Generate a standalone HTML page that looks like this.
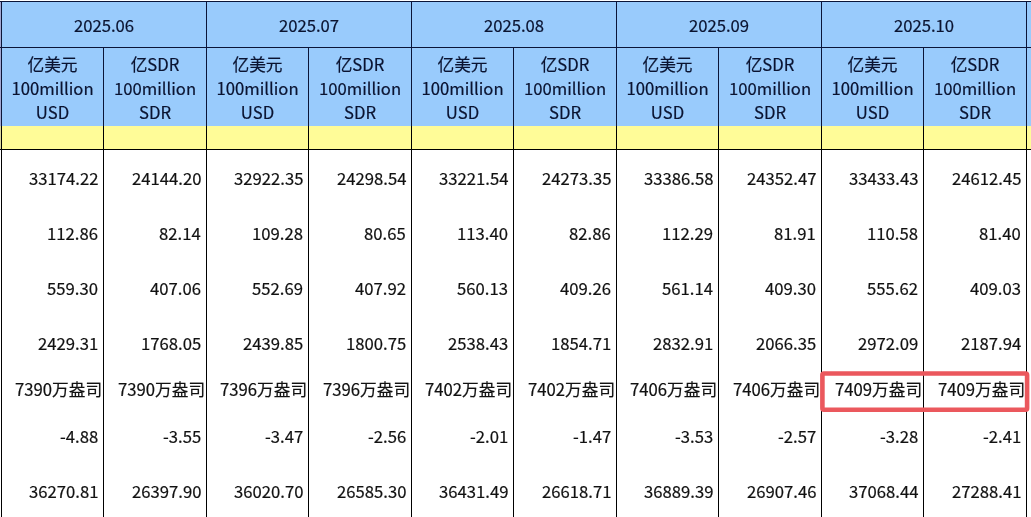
<!DOCTYPE html>
<html><head><meta charset="utf-8"><title>table</title>
<style>
html,body{margin:0;padding:0;}
body{width:1031px;height:517px;overflow:hidden;background:#fff;position:relative;
font-family:'Noto Sans CJK SC', 'Liberation Sans', sans-serif;font-size:16.7px;color:#111;}
.a{position:absolute;}
.h{position:absolute;height:1px;left:0;width:1031px;background:#000;}
.v{position:absolute;width:1px;background:#000;}
.t{position:absolute;line-height:24px;white-space:nowrap;will-change:transform;-webkit-text-stroke:0.2px currentColor;}
.c{text-align:center;}
.r{text-align:right;}
.hd{color:#0a1330;}
</style></head><body>

<div class="a" style="left:0;top:2px;width:1031px;height:124px;background:#99cbfc"></div>
<div class="a" style="left:0;top:126px;width:1031px;height:23px;background:#fffc98"></div>
<div class="a" style="left:0;top:2px;width:1px;height:124px;background:#a3a9d3"></div>
<div class="a" style="left:0;top:126px;width:1px;height:23px;background:#dcd8a0"></div>
<div class="h" style="top:1px;background:#0b1538"></div>
<div class="h" style="top:47px;background:#0b1538"></div>
<div class="h" style="top:149px;background:#000"></div>
<div class="v" style="left:1px;top:1px;height:125px;background:#0b1538"></div>
<div class="v" style="left:1px;top:126px;height:391px"></div>
<div class="v" style="left:103px;top:47px;height:79px;background:#0b1538"></div>
<div class="v" style="left:103px;top:126px;height:391px"></div>
<div class="v" style="left:206px;top:1px;height:125px;background:#0b1538"></div>
<div class="v" style="left:206px;top:126px;height:391px"></div>
<div class="v" style="left:308px;top:47px;height:79px;background:#0b1538"></div>
<div class="v" style="left:308px;top:126px;height:391px"></div>
<div class="v" style="left:411px;top:1px;height:125px;background:#0b1538"></div>
<div class="v" style="left:411px;top:126px;height:391px"></div>
<div class="v" style="left:513px;top:47px;height:79px;background:#0b1538"></div>
<div class="v" style="left:513px;top:126px;height:391px"></div>
<div class="v" style="left:616px;top:1px;height:125px;background:#0b1538"></div>
<div class="v" style="left:616px;top:126px;height:391px"></div>
<div class="v" style="left:718px;top:47px;height:79px;background:#0b1538"></div>
<div class="v" style="left:718px;top:126px;height:391px"></div>
<div class="v" style="left:821px;top:1px;height:125px;background:#0b1538"></div>
<div class="v" style="left:821px;top:126px;height:391px"></div>
<div class="v" style="left:923px;top:47px;height:79px;background:#0b1538"></div>
<div class="v" style="left:923px;top:126px;height:391px"></div>
<div class="v" style="left:1026px;top:1px;height:125px;background:#0b1538"></div>
<div class="v" style="left:1026px;top:126px;height:391px"></div>
<div class="t c hd" style="left:2px;width:204px;top:12.5px">2025.06</div>
<div class="t c hd" style="left:207px;width:204px;top:12.5px">2025.07</div>
<div class="t c hd" style="left:412px;width:204px;top:12.5px">2025.08</div>
<div class="t c hd" style="left:617px;width:204px;top:12.5px">2025.09</div>
<div class="t c hd" style="left:822px;width:204px;top:12.5px">2025.10</div>
<div class="t c hd" style="left:2px;width:101px;top:52.0px">亿美元<br>100million<br>USD</div>
<div class="t c hd" style="left:104px;width:102px;top:52.0px">亿SDR<br>100million<br>SDR</div>
<div class="t c hd" style="left:207px;width:101px;top:52.0px">亿美元<br>100million<br>USD</div>
<div class="t c hd" style="left:309px;width:102px;top:52.0px">亿SDR<br>100million<br>SDR</div>
<div class="t c hd" style="left:412px;width:101px;top:52.0px">亿美元<br>100million<br>USD</div>
<div class="t c hd" style="left:514px;width:102px;top:52.0px">亿SDR<br>100million<br>SDR</div>
<div class="t c hd" style="left:617px;width:101px;top:52.0px">亿美元<br>100million<br>USD</div>
<div class="t c hd" style="left:719px;width:102px;top:52.0px">亿SDR<br>100million<br>SDR</div>
<div class="t c hd" style="left:822px;width:101px;top:52.0px">亿美元<br>100million<br>USD</div>
<div class="t c hd" style="left:924px;width:102px;top:52.0px">亿SDR<br>100million<br>SDR</div>
<div class="t r" style="right:932.9px;top:165.9px">33174.22</div>
<div class="t r" style="right:829.9px;top:165.9px">24144.20</div>
<div class="t r" style="right:727.9px;top:165.9px">32922.35</div>
<div class="t r" style="right:624.9px;top:165.9px">24298.54</div>
<div class="t r" style="right:522.9px;top:165.9px">33221.54</div>
<div class="t r" style="right:419.9px;top:165.9px">24273.35</div>
<div class="t r" style="right:317.9px;top:165.9px">33386.58</div>
<div class="t r" style="right:214.9px;top:165.9px">24352.47</div>
<div class="t r" style="right:112.9px;top:165.9px">33433.43</div>
<div class="t r" style="right:9.9px;top:165.9px">24612.45</div>
<div class="t r" style="right:932.9px;top:220.6px">112.86</div>
<div class="t r" style="right:829.9px;top:220.6px">82.14</div>
<div class="t r" style="right:727.9px;top:220.6px">109.28</div>
<div class="t r" style="right:624.9px;top:220.6px">80.65</div>
<div class="t r" style="right:522.9px;top:220.6px">113.40</div>
<div class="t r" style="right:419.9px;top:220.6px">82.86</div>
<div class="t r" style="right:317.9px;top:220.6px">112.29</div>
<div class="t r" style="right:214.9px;top:220.6px">81.91</div>
<div class="t r" style="right:112.9px;top:220.6px">110.58</div>
<div class="t r" style="right:9.9px;top:220.6px">81.40</div>
<div class="t r" style="right:932.9px;top:275.8px">559.30</div>
<div class="t r" style="right:829.9px;top:275.8px">407.06</div>
<div class="t r" style="right:727.9px;top:275.8px">552.69</div>
<div class="t r" style="right:624.9px;top:275.8px">407.92</div>
<div class="t r" style="right:522.9px;top:275.8px">560.13</div>
<div class="t r" style="right:419.9px;top:275.8px">409.26</div>
<div class="t r" style="right:317.9px;top:275.8px">561.14</div>
<div class="t r" style="right:214.9px;top:275.8px">409.30</div>
<div class="t r" style="right:112.9px;top:275.8px">555.62</div>
<div class="t r" style="right:9.9px;top:275.8px">409.03</div>
<div class="t r" style="right:932.9px;top:331.0px">2429.31</div>
<div class="t r" style="right:829.9px;top:331.0px">1768.05</div>
<div class="t r" style="right:727.9px;top:331.0px">2439.85</div>
<div class="t r" style="right:624.9px;top:331.0px">1800.75</div>
<div class="t r" style="right:522.9px;top:331.0px">2538.43</div>
<div class="t r" style="right:419.9px;top:331.0px">1854.71</div>
<div class="t r" style="right:317.9px;top:331.0px">2832.91</div>
<div class="t r" style="right:214.9px;top:331.0px">2066.35</div>
<div class="t r" style="right:112.9px;top:331.0px">2972.09</div>
<div class="t r" style="right:9.9px;top:331.0px">2187.94</div>
<div class="t r" style="right:928.5px;top:377.1px">7390万盎司</div>
<div class="t r" style="right:825.5px;top:377.1px">7390万盎司</div>
<div class="t r" style="right:723.5px;top:377.1px">7396万盎司</div>
<div class="t r" style="right:620.5px;top:377.1px">7396万盎司</div>
<div class="t r" style="right:518.5px;top:377.1px">7402万盎司</div>
<div class="t r" style="right:415.5px;top:377.1px">7402万盎司</div>
<div class="t r" style="right:313.5px;top:377.1px">7406万盎司</div>
<div class="t r" style="right:210.5px;top:377.1px">7406万盎司</div>
<div class="t r" style="right:108.5px;top:377.1px">7409万盎司</div>
<div class="t r" style="right:5.5px;top:377.1px">7409万盎司</div>
<div class="t r" style="right:932.9px;top:423.6px">-4.88</div>
<div class="t r" style="right:829.9px;top:423.6px">-3.55</div>
<div class="t r" style="right:727.9px;top:423.6px">-3.47</div>
<div class="t r" style="right:624.9px;top:423.6px">-2.56</div>
<div class="t r" style="right:522.9px;top:423.6px">-2.01</div>
<div class="t r" style="right:419.9px;top:423.6px">-1.47</div>
<div class="t r" style="right:317.9px;top:423.6px">-3.53</div>
<div class="t r" style="right:214.9px;top:423.6px">-2.57</div>
<div class="t r" style="right:112.9px;top:423.6px">-3.28</div>
<div class="t r" style="right:9.9px;top:423.6px">-2.41</div>
<div class="t r" style="right:932.9px;top:478.5px">36270.81</div>
<div class="t r" style="right:829.9px;top:478.5px">26397.90</div>
<div class="t r" style="right:727.9px;top:478.5px">36020.70</div>
<div class="t r" style="right:624.9px;top:478.5px">26585.30</div>
<div class="t r" style="right:522.9px;top:478.5px">36431.49</div>
<div class="t r" style="right:419.9px;top:478.5px">26618.71</div>
<div class="t r" style="right:317.9px;top:478.5px">36889.39</div>
<div class="t r" style="right:214.9px;top:478.5px">26907.46</div>
<div class="t r" style="right:112.9px;top:478.5px">37068.44</div>
<div class="t r" style="right:9.9px;top:478.5px">27288.41</div>
<svg class="a" style="left:0;top:0" width="1031" height="517" viewBox="0 0 1031 517"><rect x="822.40" y="373.50" width="204.70" height="36.20" rx="1.5" fill="none" stroke="#eb585d" stroke-width="4.6"/></svg>
</body></html>
